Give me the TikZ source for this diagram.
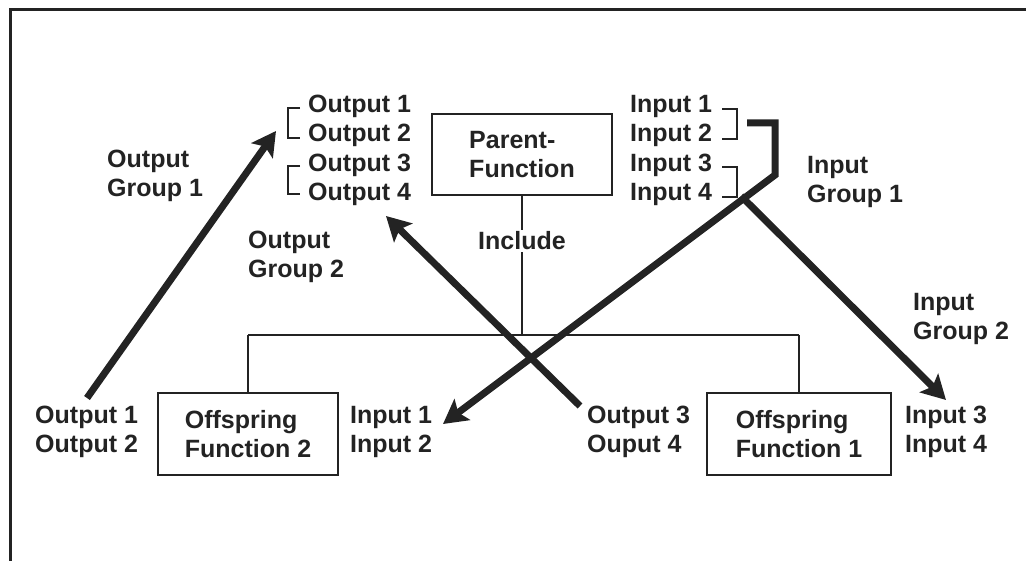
\documentclass[tikz,border=0pt]{standalone}
\usepackage{fontspec}
\setmainfont{Liberation Sans}
\usetikzlibrary{arrows.meta}
\definecolor{ink}{RGB}{35,35,35}
\tikzset{
  lbl/.style={font=\fontsize{25}{29.5}\selectfont\bfseries, text=ink, inner sep=0pt, align=left, anchor=west},
  fnbox/.style={draw=ink, line width=2pt, font=\fontsize{25}{29.5}\selectfont\bfseries, text=ink, align=left, inner sep=0pt},
  thin/.style={draw=ink, line width=2pt},
  flow/.style={draw=ink, line width=7pt, -{Stealth[length=24pt,width=26pt,inset=5pt]}},
  frame/.style={draw=ink, line width=3pt}
}
\begin{document}
\begin{tikzpicture}[x=1pt,y=-1pt]
\useasboundingbox (0,0) rectangle (1026,561);
% frame edges
\draw[frame] (10,561) -- (10,10) -- (1026,10);

% function boxes
\node[fnbox, minimum width=180pt, minimum height=81pt] (parent) at (522,154.5) {Parent-\\Function};
\node[fnbox, minimum width=180pt, minimum height=82pt] (off2) at (248,434) {Offspring\\Function 2};
\node[fnbox, minimum width=184pt, minimum height=82pt] (off1) at (799,434) {Offspring\\Function 1};

% include tree
\coordinate (jC) at (522,335);
\coordinate (jL) at (248,335);
\coordinate (jR) at (799,335);
\draw[thin] (parent.south) -- (jC);
\draw[thin] (jL) -- (jR);
\draw[thin] (jL) -- (off2.north);
\draw[thin] (jR) -- (off1.north);
\node[lbl, anchor=center, fill=white, inner sep=2pt] (incl) at (522,241) {Include};

% port labels
\node[lbl] (pout) at (308,150.5) {Output 1\\Output 2\\Output 3\\Output 4};
\node[lbl] (pin) at (630,150.5) {Input 1\\Input 2\\Input 3\\Input 4};
\node[lbl] (o2out) at (35,432) {Output 1\\Output 2};
\node[lbl] (o2in) at (350,432) {Input 1\\Input 2};
\node[lbl] (o1out) at (587,432) {Output 3\\Ouput 4};
\node[lbl] (o1in) at (905,432) {Input 3\\Input 4};

% group labels
\node[lbl] (og1) at (107,176) {Output\\Group 1};
\node[lbl] (og2) at (248,257) {Output\\Group 2};
\node[lbl] (ig1) at (807,182) {Input\\Group 1};
\node[lbl] (ig2) at (913,319) {Input\\Group 2};

% grouping brackets
\draw[thin] (300,108) -- (288,108) -- (288,138) -- (300,138);
\draw[thin] (300,166) -- (288,166) -- (288,194) -- (300,194);
\draw[thin] (722,109) -- (737,109) -- (737,139) -- (722,139);
\draw[thin] (722,167) -- (737,167) -- (737,197) -- (722,197);

% group flows
\coordinate (a1s) at (87,398);
\coordinate (a1e) at (276,131);
\coordinate (a2s) at (580,406);
\coordinate (a2e) at (386,216);
\coordinate (a3s) at (747,123);
\coordinate (a3k1) at (775,123);
\coordinate (a3k2) at (775,175);
\coordinate (a3e) at (443,424);
\coordinate (a4s) at (741,196);
\coordinate (a4e) at (946,400);
\draw[flow] (a1s) -- (a1e);
\draw[flow] (a2s) -- (a2e);
\draw[flow, line join=miter] (a3s) -- (a3k1) -- (a3k2) -- (a3e);
\draw[flow] (a4s) -- (a4e);
\end{tikzpicture}
\end{document}
